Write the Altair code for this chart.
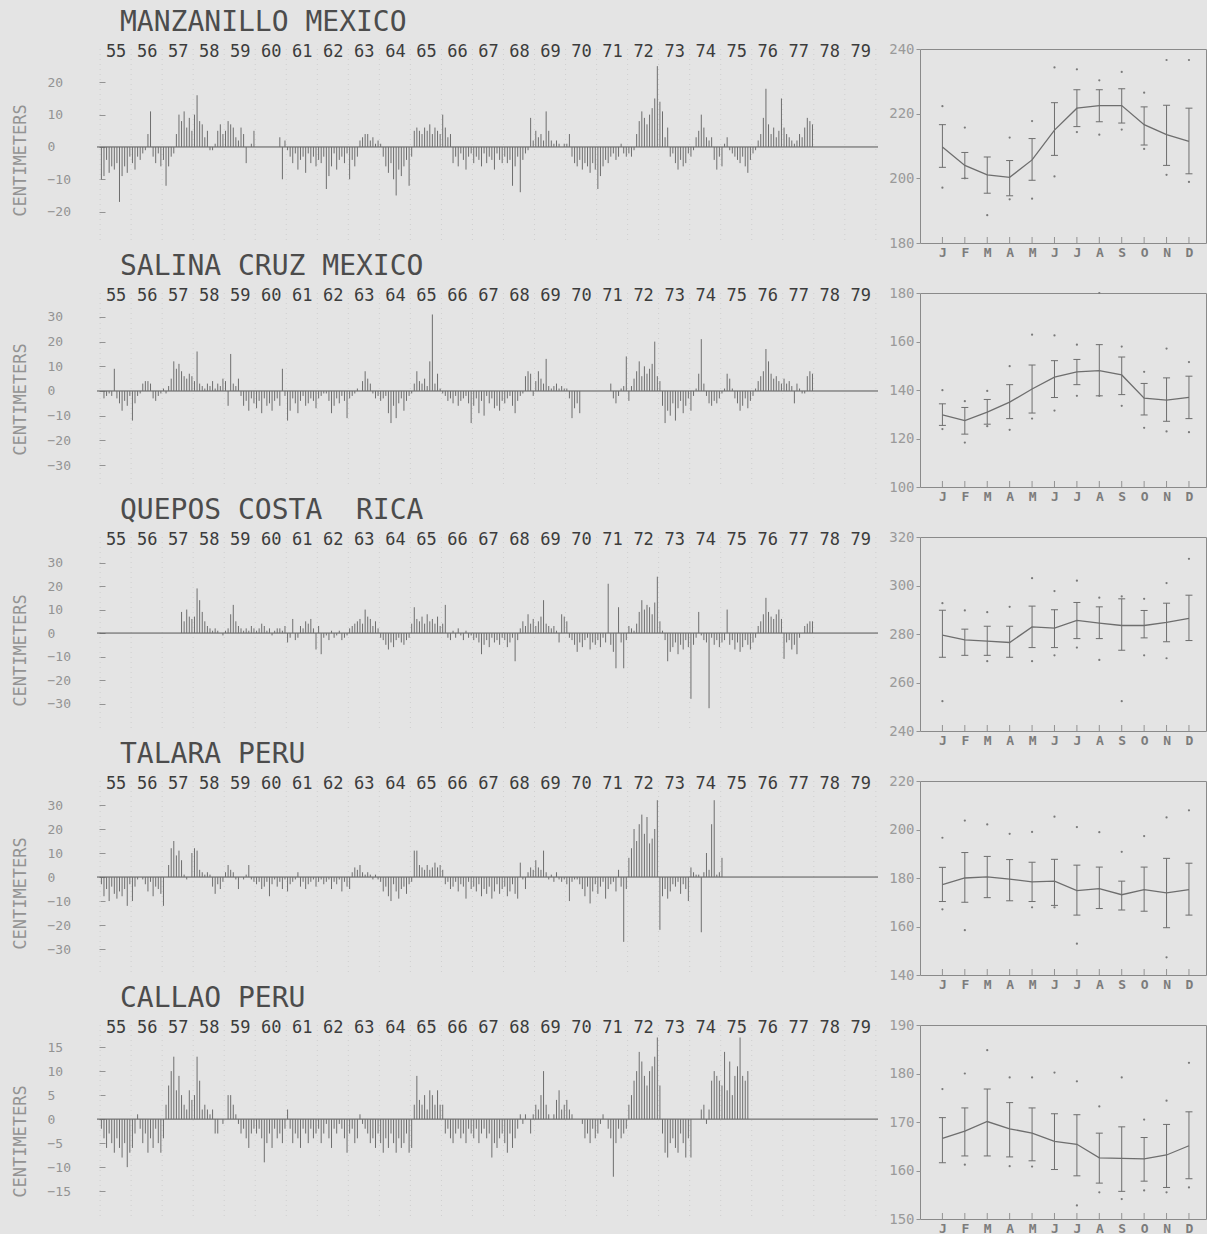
import altair as alt
import pandas as pd

NA = None
MONO = "DejaVu Sans Mono"
YEARS = list(range(1955, 1980))
MONTH_LETTERS = ["J", "F", "M", "A", "M", "J", "J", "A", "S", "O", "N", "D"]

TITLES = ["MANZANILLO MEXICO", "SALINA CRUZ MEXICO", "QUEPOS COSTA\u00a0 RICA",
          "TALARA PERU", "CALLAO PERU"]

# ---- monthly sea level anomalies (cm), Jan 1955 .. Dec 1979 ----
MANZANILLO = [
    -10, -9, -4, -8, -6, -7, -5, -17, -9, -6, -8, -3,      # 1955
    -5, -7, -3, -4, -2, -1, 4, 11, -3, -5, -2, -6,         # 1956
    -4, -12, -6, -3, -2, 4, 10, 8, 11, 6, 9, 5,            # 1957
    10, 16, 8, 7, 3, 5, -1, -1, 1, 5, 7, 4,                # 1958
    5, 8, 7, 6, 3, 2, 6, 4, -5, 0, 1, 5,                   # 1959
    NA, NA, NA, NA, NA, NA, NA, NA, NA, 3, -10, 2,         # 1960
    -1, -3, -5, -2, -7, -4, -3, -8, -2, -5, -3, -6,        # 1961
    -4, -5, -3, -13, -9, -6, -2, -7, -4, -3, -5, -2,       # 1962
    -10, -4, -6, -3, 2, 3, 4, 4, 2, 3, 1, 2,               # 1963
    1, -3, -6, -8, -5, -10, -15, -7, -9, -6, -4, -12,      # 1964
    -3, 5, 6, 5, 4, 6, 5, 7, 4, 6, 5, 4,                   # 1965
    10, 6, 3, 4, -5, -3, -6, -2, -4, -7, -3, -2,           # 1966
    -5, -3, -4, -6, -2, -5, -3, -4, -7, -2, -4, -5,        # 1967
    -3, -5, -4, -12, -6, -3, -14, -4, -2, -1, 9, 2,        # 1968
    5, 3, 4, 2, 11, 5, 2, 1, 2, 1, 0, 1,                   # 1969
    1, 4, -3, -5, -6, -4, -7, -5, -6, -8, -5, -7,          # 1970
    -13, -9, -6, -4, -5, -3, -2, -4, -3, 1, -2, -3,        # 1971
    -2, -3, -1, 4, 8, 11, 9, 7, 10, 12, 15, 25,            # 1972
    14, 11, 3, 6, -3, -2, -5, -7, -4, -6, -5, -2,          # 1973
    -3, -1, 3, 5, 10, 6, 3, 2, 3, -4, -7, -3,              # 1974
    -6, 1, 3, -1, -2, -3, -4, -5, -3, -6, -8, -4,          # 1975
    -2, -1, 2, 4, 9, 18, 7, 4, 6, 3, 5, 15,                # 1976
    6, 4, 3, 2, 1, 2, 4, 3, 6, 9, 8, 7,                    # 1977
    NA, NA, NA, NA, NA, NA, NA, NA, NA, NA, NA, NA,        # 1978
    NA, NA, NA, NA, NA, NA, NA, NA, NA, NA, NA, NA,        # 1979
]

SALINA_CRUZ = [
    NA, -3, -2, -1, -2, 9, -3, -5, -8, -4, -6, -2,         # 1955
    -12, -5, -2, -1, 3, 4, 4, 3, -3, -4, -2, -1,           # 1956
    1, -1, 2, 5, 12, 9, 11, 8, 6, 5, 7, 6,                 # 1957
    4, 16, 3, 2, 1, 3, 2, 4, 1, 3, 2, 5,                   # 1958
    4, -6, 15, 3, 2, 5, -2, -6, -4, -8, -3, -5,            # 1959
    -7, -4, -9, -3, -6, -5, -8, -4, -3, -6, 9, -2,         # 1960
    -12, -8, -3, -5, -9, -4, -2, -6, -5, -3, -4, -7,       # 1961
    -3, -2, -1, -1, -4, -9, -6, -3, -5, -2, -4, -11,       # 1962
    -3, -2, -1, 1, 0, 4, 8, 5, 3, -1, -3, -2,              # 1963
    -4, -3, -2, -9, -13, -6, -11, -5, -3, -8, -4, -2,      # 1964
    -1, 3, 8, 4, 3, 5, 2, 12, 31, 3, 7, 1,                 # 1965
    -1, -2, -4, -3, -5, -2, -6, -4, -3, -2, -5, -13,       # 1966
    -6, -3, -9, -4, -10, -2, -5, -3, -7, -6, -8, -4,       # 1967
    -5, -3, -2, -6, -9, -4, -2, -1, 6, 8, 7, -2,           # 1968
    4, 8, 5, 3, 13, 2, 1, 2, 3, 1, 2, 1,                   # 1969
    1, -3, -11, -7, -5, -9, NA, NA, NA, NA, NA, NA,        # 1970
    NA, NA, NA, NA, NA, 3, -3, -5, -2, 1, 2, 14,           # 1971
    -4, 2, 5, 8, 12, 6, 10, 7, 9, 11, 20, 6,               # 1972
    4, -6, -13, -8, -10, -5, -12, -7, -4, -9, -6, -3,      # 1973
    -8, -2, 1, 7, 21, 3, -2, -5, -6, -4, -5, -3,           # 1974
    -1, 1, 7, 5, 1, -3, -5, -8, -6, -3, -7, -4,            # 1975
    -2, 1, 4, 6, 8, 17, 12, 7, 5, 6, 4, 3,                 # 1976
    5, 3, 4, 2, -5, 3, 1, -1, -1, 6, 8, 7,                 # 1977
    NA, NA, NA, NA, NA, NA, NA, NA, NA, NA, NA, NA,        # 1978
    NA, NA, NA, NA, NA, NA, NA, NA, NA, NA, NA, NA,        # 1979
]

QUEPOS = [
    NA, NA, NA, NA, NA, NA, NA, NA, NA, NA, NA, NA,        # 1955
    NA, NA, NA, NA, NA, NA, NA, NA, NA, NA, NA, NA,        # 1956
    NA, NA, NA, NA, NA, NA, NA, 9, 5, 10, 7, 6,            # 1957
    7, 19, 14, 9, 5, 3, 2, 1, 2, 1, 0, -1,                 # 1958
    1, 2, 8, 12, 5, 3, 2, 1, 2, 1, 3, 2,                   # 1959
    1, 2, 4, 3, 1, 2, -1, 1, 2, 2, 1, 3,                   # 1960
    -4, -2, 6, -3, -2, 3, 2, 5, 4, 6, 2, -7,               # 1961
    3, -9, -2, -1, -3, 1, -2, -1, 1, -3, -2, -1,           # 1962
    2, 3, 4, 5, 6, 4, 10, 7, 6, 3, 5, 2,                   # 1963
    -2, -3, -5, -7, -4, -6, -3, -2, -4, -5, -3, -2,        # 1964
    4, 11, 6, 5, 7, 4, 8, 5, 6, 4, 7, 3,                   # 1965
    4, 12, -2, -3, 1, -2, 2, -1, -3, 1, -2, -1,            # 1966
    -3, -2, -4, -9, -5, -3, -6, -2, -4, -3, -5, -2,        # 1967
    -3, -6, -4, -2, -12, -3, 2, 5, 3, 8, 4, 6,             # 1968
    3, 5, 7, 14, 4, 3, 2, 3, 1, -4, 8, 7,                  # 1969
    5, -2, -3, -5, -8, -4, -6, -3, -2, -7, -4, -5,         # 1970
    -3, -6, -2, -4, 21, -5, -8, -15, 11, -4, -15, -3,      # 1971
    3, 2, 1, 4, 9, 14, 10, 12, 11, 8, 13, 24,              # 1972
    5, 1, -3, -12, -8, -6, -4, -9, -5, -7, -3, -6,         # 1973
    -28, -5, -2, 9, -1, -3, -4, -32, -2, -5, -3, -6,       # 1974
    -4, -3, 10, -5, -3, -7, -4, -8, -6, -3, -5, -7,        # 1975
    -4, -2, 3, 5, 8, 15, 9, 7, 6, 8, 10, 6,                # 1976
    -11, -4, -3, -7, -5, -9, -2, 0, 3, 4, 5, 5,            # 1977
    NA, NA, NA, NA, NA, NA, NA, NA, NA, NA, NA, NA,        # 1978
    NA, NA, NA, NA, NA, NA, NA, NA, NA, NA, NA, NA,        # 1979
]

TALARA = [
    -3, -8, -5, -10, -4, -7, -9, -6, -8, -5, -12, -3,      # 1955
    -10, -4, -1, 0, -1, -3, -6, -2, -8, -4, -5, -7,        # 1956
    -12, 0, 5, 12, 15, 9, 11, 7, 1, -1, 0, 10,             # 1957
    12, 11, 3, 2, 1, 2, 1, -4, -7, -3, -5, -2,             # 1958
    2, 5, 3, 2, -1, -5, 0, -1, 1, 5, -1, -2,               # 1959
    -3, -2, -5, -4, -2, -8, -3, -1, -4, -2, -5, -1,        # 1960
    -6, -3, -2, -1, 2, -4, -2, -5, -3, -2, -1, -4,         # 1961
    -2, -1, -3, -2, -1, -5, -2, -3, -1, -6, -2, -4,        # 1962
    -5, 2, 4, 3, 5, 2, 1, 2, 1, -1, 1, -1,                 # 1963
    -2, -6, -4, -8, -10, -3, -6, -9, -5, -4, -7, -3,       # 1964
    -2, 11, 11, 5, 4, 3, 5, 3, 4, 6, 4, 5,                 # 1965
    3, -3, -2, -5, -4, -2, -6, -3, -4, -9, -2, -5,         # 1966
    -4, -6, -3, -8, -5, -7, -4, -9, -6, -3, -7, -5,        # 1967
    -4, -8, -6, -3, -7, -9, 6, -1, -5, 2, 4, 3,            # 1968
    7, 4, 3, 11, 2, -1, 1, -2, 2, -1, -2, -1,              # 1969
    -3, -10, -2, -1, -1, -3, -5, -8, -4, -11, -6, -3,      # 1970
    -7, -4, -2, -9, -5, -3, -2, -6, 3, -4, -27, -5,        # 1971
    8, 12, 20, 15, 22, 26, 18, 25, 14, 16, 20, 32,         # 1972
    -22, -8, -5, -9, -6, -3, -4, -2, -7, -3, -5, -10,      # 1973
    4, 2, 1, 1, -23, 2, 10, 3, 22, 32, 1, 2,               # 1974
    8, NA, NA, NA, NA, NA, NA, NA, NA, NA, NA, NA,         # 1975
    NA, NA, NA, NA, NA, NA, NA, NA, NA, NA, NA, NA,        # 1976
    NA, NA, NA, NA, NA, NA, NA, NA, NA, NA, NA, NA,        # 1977
    NA, NA, NA, NA, NA, NA, NA, NA, NA, NA, NA, NA,        # 1978
    NA, NA, NA, NA, NA, NA, NA, NA, NA, NA, NA, NA,        # 1979
]

CALLAO = [
    -2, -4, -6, -3, -5, -7, -4, -6, -8, -5, -10, -7,       # 1955
    -6, -3, 1, -2, -5, -3, -7, -4, -6, -2, -5, -7,         # 1956
    -4, 3, 7, 10, 13, 6, 9, 5, 3, 2, 6, 4,                 # 1957
    5, 13, 8, 2, 3, 2, 1, 2, -3, -3, 0, -1,                # 1958
    0, 5, 5, 3, 1, -1, -3, -2, -4, -6, -3, -2,             # 1959
    -3, -2, -4, -9, -5, -3, -6, -2, -4, -3, -5, -2,        # 1960
    2, -2, -5, -3, -4, -6, -2, -3, -5, -2, -4, -3,         # 1961
    -2, -5, -3, -1, -4, -6, -2, -3, -1, -2, -4, -7,        # 1962
    -3, -2, -5, -4, 1, -1, -2, -3, -5, -4, -6, -3,         # 1963
    -5, -7, -4, -6, -3, -5, -7, -4, -6, -5, -3, -7,        # 1964
    -6, 3, 9, 4, 3, 5, 2, 6, 5, 3, 6, 3,                   # 1965
    3, -3, -2, -4, -5, -3, -2, -4, -3, -5, -2, -3,         # 1966
    -4, -2, -5, -3, -2, -4, -3, -8, -5, -6, -4, -3,        # 1967
    -5, -7, -3, -6, -4, -2, 1, -1, 1, 0, -3, 1,            # 1968
    3, 2, 5, 10, 3, 1, 0, 1, 4, 6, 2, 3,                   # 1969
    4, 2, 1, 0, 0, 0, -1, -4, -3, -5, -2, -4,              # 1970
    -3, -1, 1, 0, -2, -4, -12, -5, -2, -4, -3, -2,         # 1971
    3, 5, 8, 10, 14, 12, 9, 7, 10, 11, 13, 17,             # 1972
    7, -3, -7, -8, -5, -4, -6, -7, -3, -5, -8, -4,         # 1973
    -8, 0, 0, 0, 2, 3, -1, 2, 8, 10, 9, 8,                 # 1974
    7, 14, 6, 12, 5, 9, 11, 17, 9, 8, 10, NA,              # 1975
    NA, NA, NA, NA, NA, NA, NA, NA, NA, NA, NA, NA,        # 1976
    NA, NA, NA, NA, NA, NA, NA, NA, NA, NA, NA, NA,        # 1977
    NA, NA, NA, NA, NA, NA, NA, NA, NA, NA, NA, NA,        # 1978
    NA, NA, NA, NA, NA, NA, NA, NA, NA, NA, NA, NA,        # 1979
]

# ---- seasonal cycle (cm): mean, +/- 1 sd, extremes ----
MANZ_MEAN = [209.7, 204.0, 201.1, 200.3, 205.7, 214.9, 221.7, 222.5, 222.5, 216.6, 213.5, 211.4]
MANZ_HI = [216.6, 208.0, 206.6, 205.5, 212.3, 223.4, 227.4, 227.4, 227.7, 222.1, 222.6, 221.7]
MANZ_LO = [203.4, 200.0, 195.4, 194.6, 199.4, 207.1, 216.0, 217.5, 217.1, 210.3, 204.0, 201.4]
MANZ_MAX = [222.3, 215.7, NA, 212.6, 217.7, 234.3, 233.7, 230.3, 232.9, 226.5, 236.6, 236.6]
MANZ_MIN = [197.1, 200.0, 188.6, 193.5, 193.7, 200.6, 214.3, 213.5, 215.1, 209.1, 201.1, 198.9]

SAL_MEAN = [129.7, 127.4, 130.9, 135.0, 140.4, 145.3, 147.5, 148.0, 146.2, 136.6, 135.8, 137.0]
SAL_HI = [134.3, 132.8, 136.1, 142.2, 150.3, 152.1, 152.6, 158.7, 153.6, 142.7, 145.0, 145.7]
SAL_LO = [125.4, 121.8, 125.9, 128.2, 130.5, 136.9, 142.2, 137.6, 138.1, 129.7, 127.1, 128.2]
SAL_MAX = [139.9, 135.4, 139.6, 149.8, 162.8, 162.5, 158.7, 180.0, 157.9, 147.5, 157.1, 151.5]
SAL_MIN = [123.9, 118.3, 125.1, 123.6, 128.2, 131.5, 137.6, 137.6, 133.5, 124.4, 122.9, 122.6]

QUE_MEAN = [279.5, 277.6, 277.1, 276.5, 282.9, 282.4, 285.6, 284.5, 283.5, 283.5, 284.8, 286.4]
QUE_HI = [289.8, 282.0, 283.2, 283.2, 291.5, 290.0, 293.0, 291.2, 294.5, 289.7, 292.7, 296.0]
QUE_LO = [270.4, 271.2, 271.2, 270.4, 274.4, 274.4, 278.1, 278.1, 273.3, 278.4, 276.8, 277.3]
QUE_MAX = [292.7, 289.7, 289.0, 291.2, 303.0, 297.7, 302.0, 295.0, 295.5, 294.5, 301.0, 311.0]
QUE_MIN = [252.3, NA, 268.8, NA, 268.8, 271.2, 274.4, 269.3, 252.3, 271.2, 270.0, NA]

TAL_MEAN = [177.3, 180.0, 180.5, 179.5, 178.4, 178.7, 174.8, 175.6, 173.1, 175.2, 173.9, 175.2]
TAL_HI = [184.4, 190.5, 188.9, 187.6, 186.5, 187.7, 185.3, 184.5, 178.7, 184.5, 188.1, 186.1]
TAL_LO = [170.3, 170.0, 171.9, 170.6, 170.3, 168.7, 164.7, 167.4, 166.8, 166.3, 159.5, 164.7]
TAL_MAX = [196.6, 203.7, 202.1, 198.2, 199.0, 205.3, 201.0, 198.9, 190.8, 197.3, 205.0, 207.9]
TAL_MIN = [167.1, 158.5, NA, NA, 167.9, 167.9, 152.9, NA, NA, NA, 147.3, NA]

CAL_MEAN = [166.6, 168.1, 170.1, 168.6, 167.7, 166.0, 165.4, 162.6, 162.5, 162.4, 163.2, 165.1]
CAL_HI = [170.9, 172.9, 176.8, 174.0, 172.9, 171.7, 171.5, 167.7, 169.0, 166.8, 169.5, 172.1]
CAL_LO = [161.6, 163.0, 163.0, 162.8, 162.0, 160.2, 158.9, 157.4, 155.7, 157.8, 156.5, 158.3]
CAL_MAX = [176.8, 180.0, 184.8, 179.2, 179.2, 180.2, 178.4, 173.2, 179.2, 170.5, 174.4, 182.2]
CAL_MIN = [NA, 161.2, NA, 160.9, 160.8, NA, 152.8, 155.5, 154.1, 155.9, 155.5, 156.5]

LEFT_DOMAINS = [[-29.7, 30.3], [-38.9, 39.7], [-41.7, 40.9], [-40.8, 40.0], [-20.8, 19.6]]
LEFT_TICKS = [[20, 10, 0, -10, -20], [30, 20, 10, 0, -10, -20, -30],
              [30, 20, 10, 0, -10, -20, -30], [30, 20, 10, 0, -10, -20, -30],
              [15, 10, 5, 0, -5, -10, -15]]
LEFT_TITLE_Y = [111, 106, 113, 112, 116]
RIGHT_DOMAINS = [[180, 240], [100, 180], [240, 320], [140, 220], [150, 190]]
RIGHT_TICKS = [[180, 200, 220, 240], [100, 120, 140, 160, 180], [240, 260, 280, 300, 320],
               [140, 160, 180, 200, 220], [150, 160, 170, 180, 190]]

SERIES = [MANZANILLO, SALINA_CRUZ, QUEPOS, TALARA, CALLAO]
SEASONAL = [
    (MANZ_MEAN, MANZ_LO, MANZ_HI, MANZ_MIN, MANZ_MAX),
    (SAL_MEAN, SAL_LO, SAL_HI, SAL_MIN, SAL_MAX),
    (QUE_MEAN, QUE_LO, QUE_HI, QUE_MIN, QUE_MAX),
    (TAL_MEAN, TAL_LO, TAL_HI, TAL_MIN, TAL_MAX),
    (CAL_MEAN, CAL_LO, CAL_HI, CAL_MIN, CAL_MAX),
]

LW, RW, H = 781, 286, 194
DARK = "#3c3c3c"
TITLE_COLOR = "#4c4c4c"
MID = "#6e6e6e"
LIGHT = "#939393"


def left_panel(title, values, ydom, yticks, title_y):
    t = [1955 + (i + 0.5) / 12 for i in range(len(values))]
    df = pd.DataFrame({"t": t, "v": values}).dropna()
    grid_df = pd.DataFrame({"t": list(range(1955, 1981))})
    xscale = alt.Scale(domain=[1954.9, 1980.07], nice=False, zero=False)
    yscale = alt.Scale(domain=ydom, nice=False, zero=False)
    xaxis = alt.Axis(orient="top", values=[y + 0.5 for y in YEARS],
                     labelExpr="floor(datum.value) % 100", domain=False, ticks=False,
                     grid=False, labelPadding=0, offset=-2, labelBaseline="middle",
                     labelFont=MONO, labelFontSize=17, labelColor=DARK, title=None,
                     labelFlush=False, labelOverlap=False)
    yaxis = alt.Axis(orient="left", values=yticks,
                     labelExpr="(datum.value < 0 ? '' : '\u00a0') + datum.label",
                     domain=False, grid=False, tickSize=6, tickColor=LIGHT, offset=-8,
                     labelAlign="left", labelPadding=52, labelFont=MONO, labelFontSize=13,
                     labelColor=LIGHT, labelFlush=False, title="CENTIMETERS", titleFont=MONO,
                     titleFontSize=17, titleFontWeight="normal", titleColor=LIGHT,
                     titleX=-85, titleY=title_y, titleAngle=270, titleAlign="center",
                     titleBaseline="middle")
    X = alt.X("t:Q", scale=xscale, axis=xaxis)
    Y = alt.Y("v:Q", scale=yscale, axis=yaxis)
    grid = alt.Chart(grid_df).mark_rule(color="#cfcfcf", strokeDash=[1, 4], strokeWidth=1).encode(x=X)
    zero = alt.Chart(pd.DataFrame({"v": [0]})).mark_rule(color="#555555", strokeWidth=1).encode(y=Y)
    bars = alt.Chart(df).mark_rule(color=MID, strokeWidth=1).encode(x=X, y=Y, y2=alt.datum(0))
    return alt.layer(grid, zero, bars).properties(
        width=LW, height=H,
        title=alt.TitleParams(text=title, anchor="start", frame="group", dx=23, offset=-17,
                              baseline="alphabetic", font=MONO, fontSize=28,
                              fontWeight="normal", color=TITLE_COLOR),
        view=alt.ViewBackground(stroke="transparent"),
    )


def right_panel(mean, lo, hi, mn, mx, ydom, yticks):
    months = list(range(1, 13))
    df = pd.DataFrame({"m": months, "mean": mean, "lo": lo, "hi": hi})
    caps = pd.DataFrame({"m": months * 2, "c": lo + hi})
    dots = pd.DataFrame({"m": months * 2, "d": mn + mx}).dropna()
    xscale = alt.Scale(domain=[0, 12.76], nice=False, zero=False)
    yscale = alt.Scale(domain=ydom, nice=False, zero=False)
    xaxis = alt.Axis(values=months,
                     labelExpr="['J','F','M','A','M','J','J','A','S','O','N','D'][datum.value - 1]",
                     domain=False, ticks=False, grid=False, labelPadding=3, labelFont=MONO,
                     labelFontSize=13, labelFontWeight="bold", labelColor="#7c7c7c", title=None)
    yaxis = alt.Axis(values=yticks, domain=False, grid=False, tickSize=4, tickColor=LIGHT,
                     labelPadding=2, labelFont=MONO, labelFontSize=14, labelColor="#9a9a9a",
                     labelFlush=False, title=None)
    X = alt.X("m:Q", scale=xscale, axis=xaxis)
    line = alt.Chart(df).mark_line(color=MID, strokeWidth=1.3).encode(
        x=X, y=alt.Y("mean:Q", scale=yscale, axis=yaxis))
    err = alt.Chart(df).mark_rule(color=MID, strokeWidth=1).encode(
        x=X, y=alt.Y("lo:Q", scale=yscale, axis=yaxis), y2="hi:Q")
    capm = alt.Chart(caps).mark_point(shape="M -1 0 L 1 0", size=49, filled=False,
                                      color=MID, strokeWidth=1, opacity=1).encode(
        x=X, y=alt.Y("c:Q", scale=yscale, axis=yaxis))
    dotm = alt.Chart(dots).mark_circle(size=5, color="#7a7a7a", opacity=1).encode(
        x=X, y=alt.Y("d:Q", scale=yscale, axis=yaxis))
    ticks = alt.Chart(pd.DataFrame({"m": months})).mark_rule(color=LIGHT, strokeWidth=1).encode(
        x=X, y=alt.value(H), y2=alt.value(H - 6))
    return alt.layer(ticks, err, capm, line, dotm).properties(
        width=RW, height=H, view=alt.ViewBackground(stroke="#8a8a8a", strokeWidth=1))


cells = []
for i in range(5):
    cells.append(left_panel(TITLES[i], SERIES[i], LEFT_DOMAINS[i], LEFT_TICKS[i], LEFT_TITLE_Y[i]))
    mean, lo, hi, mn, mx = SEASONAL[i]
    cells.append(right_panel(mean, lo, hi, mn, mx, RIGHT_DOMAINS[i], RIGHT_TICKS[i]))

chart = alt.concat(*cells, columns=2, bounds="flush",
                   spacing={"row": 50, "column": 42}).properties(
    padding={"left": 10, "top": 8, "right": 0, "bottom": 0}
).configure(background="#e4e4e4").configure_view(stroke="transparent")

chart.save("out.html", embed_options={"renderer": "svg", "actions": False})
